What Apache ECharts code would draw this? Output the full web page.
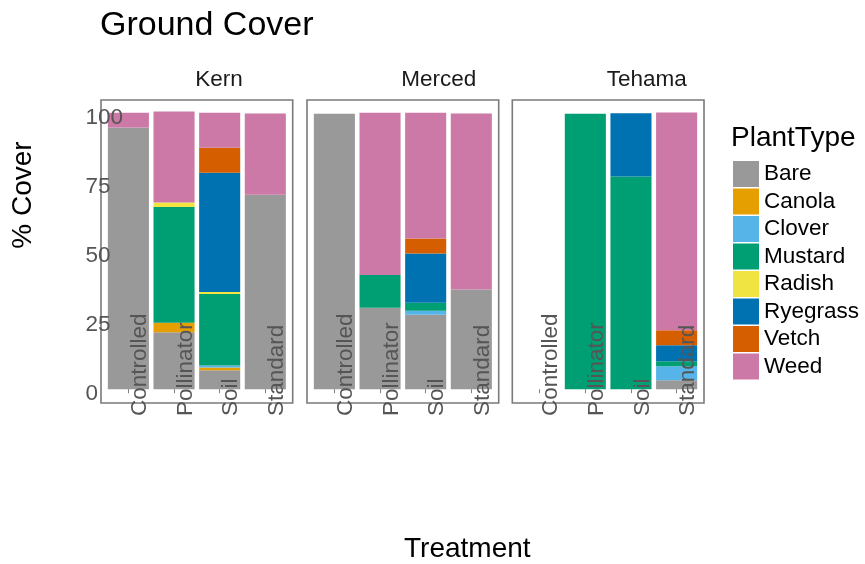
<!DOCTYPE html>
<html>
<head>
<meta charset="utf-8">
<script src="https://cdn.jsdelivr.net/npm/echarts@6/dist/echarts.min.js"></script>
<style>
html,body{margin:0;padding:0;background:#fff;}
#chart{width:865px;height:564px;}
</style>
</head>
<body>
<div id="chart"></div>
<script>
// ---- data ----
const categories = ['Controlled', 'Pollinator', 'Soil', 'Standard'];
const sites = ['Kern', 'Merced', 'Tehama'];
const plantTypes = ['Bare', 'Canola', 'Clover', 'Mustard', 'Radish', 'Ryegrass', 'Vetch', 'Weed'];
const yTickValues = [0, 25, 50, 75, 100];

// Kern
const kernBare     = [95.0, 20.7, 6.9, 70.6];
const kernCanola   = [0, 3.4, 1.0, 0];
const kernClover   = [0, 0, 0.7, 0];
const kernMustard  = [0, 42.1, 26.0, 0];
const kernRadish   = [0, 1.6, 0.7, 0];
const kernRyegrass = [0, 0, 43.3, 0];
const kernVetch    = [0, 0, 9.1, 0];
const kernWeed     = [5.4, 33.0, 12.7, 29.5];
// Merced
const mercedBare     = [100, 29.6, 27.0, 36.2];
const mercedCanola   = [0, 0, 0, 0];
const mercedClover   = [0, 0, 1.5, 0];
const mercedMustard  = [0, 11.9, 2.9, 0];
const mercedRadish   = [0, 0, 0, 0];
const mercedRyegrass = [0, 0, 17.9, 0];
const mercedVetch    = [0, 0, 5.4, 0];
const mercedWeed     = [0, 58.9, 45.7, 63.9];
// Tehama
const tehamaBare     = [0, 0, 0, 3.3];
const tehamaCanola   = [0, 0, 0, 0];
const tehamaClover   = [0, 0, 0, 5.0];
const tehamaMustard  = [0, 100, 77.2, 1.9];
const tehamaRadish   = [0, 0, 0, 0];
const tehamaRyegrass = [0, 0, 23.0, 5.8];
const tehamaVetch    = [0, 0, 0, 5.4];
const tehamaWeed     = [0, 0, 0, 79.1];

const siteValues = [
  [kernBare, kernCanola, kernClover, kernMustard, kernRadish, kernRyegrass, kernVetch, kernWeed],
  [mercedBare, mercedCanola, mercedClover, mercedMustard, mercedRadish, mercedRyegrass, mercedVetch, mercedWeed],
  [tehamaBare, tehamaCanola, tehamaClover, tehamaMustard, tehamaRadish, tehamaRyegrass, tehamaVetch, tehamaWeed]
];

// ---- styling / layout ----
const colors = ['#999999', '#E69F00', '#56B4E9', '#009E73', '#F0E442', '#0072B2', '#D55E00', '#CC79A7'];
const FONT = 'Liberation Sans, Arial, sans-serif';
const panelLeft = [101, 307, 512.3];
const panelWidth = 191.7;
const panelTop = 100;
const panelHeight = 303;
const expandFrac = 0.1 / 4.2;   // discrete expansion inset (0.6 - 0.5 of a band)
const innerFrac = 4 / 4.2;

const grids = [], xAxes = [], yAxes = [], series = [];
sites.forEach((site, k) => {
  // outer panel (border only)
  grids.push({
    left: panelLeft[k], top: panelTop, width: panelWidth, height: panelHeight,
    show: true, borderColor: '#7a7a7a', borderWidth: 1.6, backgroundColor: 'transparent'
  });
  // inner plotting grid
  grids.push({
    left: panelLeft[k] + panelWidth * expandFrac, top: panelTop,
    width: panelWidth * innerFrac, height: panelHeight, show: false
  });
  const outerIdx = 2 * k, innerIdx = 2 * k + 1;
  xAxes.push({ gridIndex: outerIdx, type: 'value', show: false, min: 0, max: 1 });
  yAxes.push({ gridIndex: outerIdx, type: 'value', show: false, min: 0, max: 1 });
  xAxes.push({
    gridIndex: innerIdx, type: 'category', data: categories, boundaryGap: true, z: 10,
    axisLine: { show: false },
    axisTick: { show: true, alignWithLabel: true, length: 4, lineStyle: { color: '#7f7f7f', width: 1 } },
    axisLabel: {
      show: true, interval: 0, rotate: 90, align: 'left', verticalAlign: 'top', margin: 13,
      fontSize: 22.5, color: '#555555', fontFamily: FONT
    },
    splitLine: { show: false }
  });
  yAxes.push({
    gridIndex: innerIdx, type: 'value', min: -5, max: 105, z: 10,
    axisLine: { show: false }, axisTick: { show: false }, splitLine: { show: false },
    axisLabel: {
      show: k === 0, customValues: yTickValues, align: 'left', verticalAlign: 'top',
      lineHeight: 9, margin: 20, fontSize: 22.5, color: '#555555', fontFamily: FONT
    }
  });
  plantTypes.forEach((pt, j) => {
    series.push({
      type: 'bar', name: pt, stack: 'site' + k,
      xAxisIndex: innerIdx, yAxisIndex: innerIdx,
      barWidth: '90%',
      itemStyle: { color: colors[j] },
      emphasis: { disabled: true },
      data: siteValues[k][j]
    });
  });
});

const titles = [
  { text: 'Ground Cover', left: 100, top: 8.5, padding: 0,
    textStyle: { fontSize: 34, fontWeight: 'normal', color: '#000', fontFamily: FONT } },
  { text: 'PlantType', left: 731, top: 124, padding: 0,
    textStyle: { fontSize: 28, fontWeight: 'normal', color: '#000', fontFamily: FONT } },
  { text: 'Treatment', left: 404, top: 535, padding: 0,
    textStyle: { fontSize: 28, fontWeight: 'normal', color: '#000', fontFamily: FONT } }
];
sites.forEach((site, k) => {
  titles.push({
    text: site, left: panelLeft[k] + panelWidth / 2 - 1.5, top: 68.5, padding: 0,
    textStyle: { fontSize: 22.5, fontWeight: 'normal', color: '#1a1a1a', fontFamily: FONT }
  });
});

const chart = echarts.init(document.getElementById('chart'), null, { renderer: 'canvas' });
chart.setOption({
  animation: false,
  backgroundColor: '#ffffff',
  textStyle: { fontFamily: FONT },
  title: titles,
  legend: {
    data: plantTypes, orient: 'vertical', left: 733, top: 161, padding: 0,
    itemWidth: 26, itemHeight: 26, itemGap: 1.5, icon: 'rect', selectedMode: false,
    textStyle: { fontSize: 22.5, color: '#000', fontFamily: FONT, verticalAlign: 'top', lineHeight: 5 }
  },
  grid: grids,
  xAxis: xAxes,
  yAxis: yAxes,
  series: series,
  graphic: [{
    type: 'text', x: 23.5, y: 195, rotation: Math.PI / 2,
    style: { text: '% Cover', fontSize: 28, fill: '#000', fontFamily: FONT, align: 'center', verticalAlign: 'middle' }
  }]
});
</script>
</body>
</html>
